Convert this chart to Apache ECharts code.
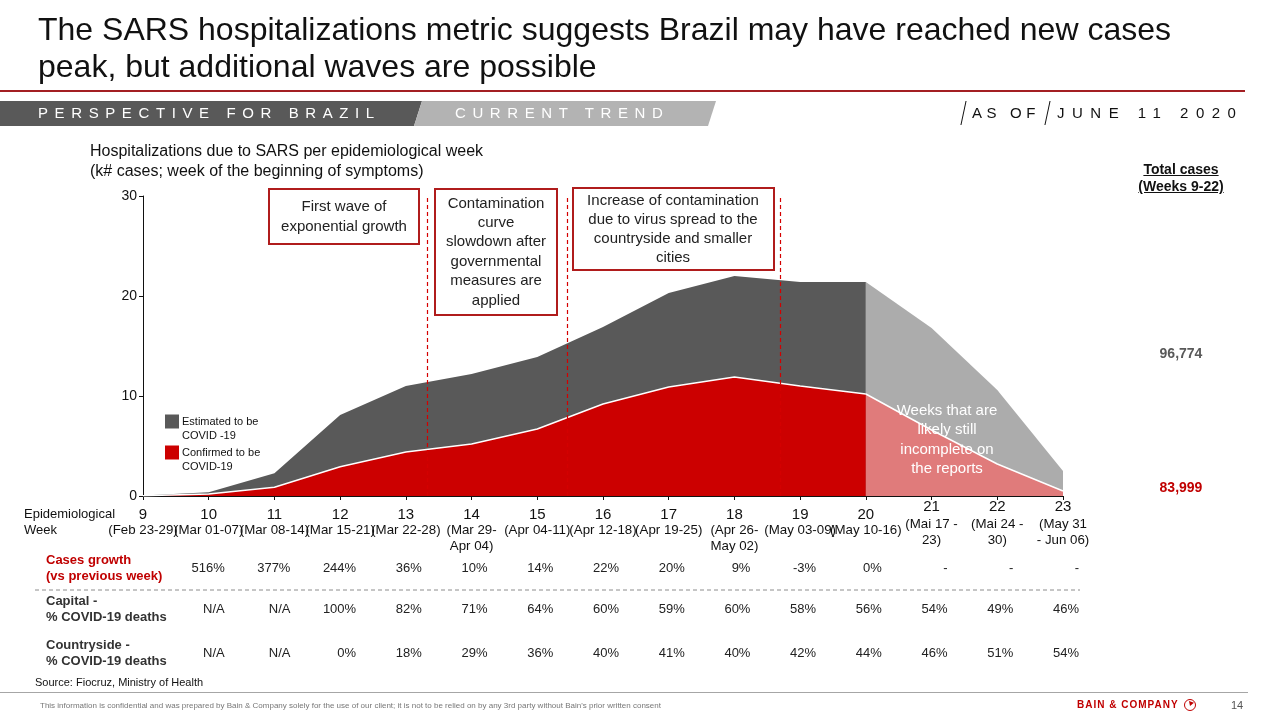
<!DOCTYPE html>
<html>
<head>
<meta charset="utf-8">
<script src="https://cdn.jsdelivr.net/npm/echarts@6/dist/echarts.min.js"></script>
<style>
  body { margin: 0; width: 1280px; height: 720px; position: relative; overflow: hidden; background: #fff;
         font-family: "Liberation Sans", Arial, sans-serif; color: #111; }
  #main { position: absolute; left: 0; top: 0; width: 1280px; height: 720px; }
  .t { position: absolute; white-space: nowrap; }
  .title { left: 38px; top: 11px; font-size: 32px; line-height: 37px; }
  .rule { position: absolute; left: 0; top: 90px; width: 1245px; height: 2px; background: #a31f23; }
  .band { position: absolute; top: 101px; height: 25px; }
  .band.dark { left: 0; width: 422px; background: #595959; clip-path: polygon(0 0, 100% 0, calc(100% - 8px) 100%, 0 100%); }
  .band.light { left: 414px; width: 302px; background: #b3b3b3; clip-path: polygon(8px 0, 100% 0, calc(100% - 8px) 100%, 0 100%); }
  .band-txt { top: 104px; font-size: 15px; line-height: 18px; color: #fff; letter-spacing: 6.6px; }
  .asof { top: 104px; font-size: 15px; line-height: 18px; color: #111; }
  .slash { position: absolute; top: 101px; width: 1.3px; height: 24px; background: #111; transform: skewX(-12deg); }
  .sub { left: 90px; top: 141px; font-size: 16px; line-height: 20px; }
  .tot { font-weight: bold; font-size: 14px; text-align: center; width: 140px; left: 1111px; }
  .foot-line { position: absolute; left: 0; top: 692px; width: 1248px; height: 1px; background: #a6a6a6; }
</style>
</head>
<body>
<div id="main"></div>

<div class="t title">The SARS hospitalizations metric suggests Brazil may have reached new cases<br>peak, but additional waves are possible</div>
<div class="rule"></div>
<div class="band dark"></div>
<div class="band light"></div>
<div class="t band-txt" style="left:38px">PERSPECTIVE FOR BRAZIL</div>
<div class="t band-txt" style="left:455px">CURRENT TREND</div>
<div class="slash" style="left:963px"></div>
<div class="t asof" style="left:972px;letter-spacing:4.6px">AS OF</div>
<div class="slash" style="left:1047px"></div>
<div class="t asof" style="left:1057px;letter-spacing:7.5px">JUNE 11 2020</div>

<div class="t sub">Hospitalizations due to SARS per epidemiological week<br>(k# cases; week of the beginning of symptoms)</div>

<div class="t tot" style="top:161px;line-height:17px;text-decoration:underline;color:#111">Total cases<br>(Weeks 9-22)</div>
<div class="t tot" id="totEst" style="top:345px;color:#595959"></div>
<div class="t tot" id="totConf" style="top:479px;color:#c00000"></div>

<div class="t" style="left:35px;top:676px;font-size:11px;color:#111">Source: Fiocruz, Ministry of Health</div>
<div class="foot-line"></div>
<div class="t" style="left:40px;top:701px;font-size:8px;color:#777">This information is confidential and was prepared by Bain &amp; Company solely for the use of our client; it is not to be relied on by any 3rd party without Bain's prior written consent</div>
<div class="t" style="left:1077px;top:699px;font-size:10px;font-weight:bold;color:#c00000;letter-spacing:1px">BAIN &amp; COMPANY</div>
<div class="t" style="left:1184px;top:699px;width:12px;height:12px;border:1.6px solid #c00000;border-radius:50%;box-sizing:border-box"></div>
<div class="t" style="left:1189px;top:701px;width:5px;height:5px;background:#c00000;clip-path:polygon(0 0, 100% 35%, 20% 100%)"></div>
<div class="t" style="left:1231px;top:699px;font-size:11px;color:#555">14</div>

<script type="text/javascript">
  // epidemiological weeks and their date ranges
  var weeks = [9, 10, 11, 12, 13, 14, 15, 16, 17, 18, 19, 20, 21, 22, 23];
  var weekDates = ['(Feb 23-29)', '(Mar 01-07)', '(Mar 08-14)', '(Mar 15-21)', '(Mar 22-28)',
                   '(Mar 29-\nApr 04)', '(Apr 04-11)', '(Apr 12-18)', '(Apr 19-25)', '(Apr 26-\nMay 02)',
                   '(May 03-09)', '(May 10-16)', '(Mai 17 -\n23)', '(Mai 24 -\n30)', '(May 31\n- Jun 06)'];
  // k# hospitalizations
  var confirmed = [0.02, 0.2, 0.87, 2.93, 4.4, 5.2, 6.7, 9.2, 10.9, 11.9, 11.0, 10.2, 6.6, 3.2, 0.5];
  var estimated = [0.03, 0.17, 1.4, 5.17, 6.6, 7.0, 7.2, 7.7, 9.4, 10.1, 10.4, 11.2, 10.2, 7.4, 2.0];
  var lastCompleteWeek = 20;
  // table rows
  var growth = ['', '516%', '377%', '244%', '36%', '10%', '14%', '22%', '20%', '9%', '-3%', '0%', '-', '-', '-'];
  var capital = ['', 'N/A', 'N/A', '100%', '82%', '71%', '64%', '60%', '59%', '60%', '58%', '56%', '54%', '49%', '46%'];
  var countryside = ['', 'N/A', 'N/A', '0%', '18%', '29%', '36%', '40%', '41%', '40%', '42%', '44%', '46%', '51%', '54%'];
  // phase boundaries (week position) and totals
  var phaseBreaks = [13.32, 15.45, 18.7];
  var totals = ['96,774', '83,999'];

  document.getElementById('totEst').textContent = totals[0];
  document.getElementById('totConf').textContent = totals[1];

  // estimated cases sit on top of the confirmed ones
  var allCases = confirmed.map(function (c, i) { return c + estimated[i]; });
  var weekNames = weeks.map(String);
  var split = weeks.indexOf(lastCompleteWeek);
  var last = weeks.length - 1;
  function pairs(values, from, to) {
    var out = [];
    for (var i = from; i <= to; i++) out.push([weekNames[i], values[i]]);
    return out;
  }
  function tableAxis(list, offset) {
    return {
      type: 'category', gridIndex: 1, position: 'bottom', offset: offset,
      data: list, boundaryGap: false,
      axisLine: { show: false }, axisTick: { show: false }, splitLine: { show: false },
      axisLabel: { interval: 0, margin: 0, align: 'right', verticalAlign: 'middle', fontSize: 13, color: '#222' }
    };
  }

  var FONT = '"Liberation Sans", Arial, sans-serif';
  var red = '#cc0000', redLight = '#e07b7b', grey = '#595959', greyLight = '#acacac';

  var option = {
    animation: false,
    textStyle: { fontFamily: FONT },
    grid: [
      { left: 143, top: 196, right: 217, height: 300 },
      { left: 159, top: 196, right: 201, height: 300 }
    ],
    legend: {
      data: ['Estimated to be COVID -19', 'Confirmed to be COVID-19'],
      orient: 'vertical', left: 165, top: 413, itemGap: 0, padding: 0,
      itemWidth: 14, itemHeight: 28,
      icon: 'path://M0,0L14,0L14,14L0,14Z M0,28',
      itemStyle: { borderWidth: 0 },
      formatter: function (name) { return name.replace(' COVID', '\nCOVID'); },
      textStyle: { fontSize: 11, lineHeight: 14, color: '#111', padding: [3, 0, 0, -2] },
      selectedMode: false
    },
    xAxis: [
      {
        type: 'category', gridIndex: 0, data: weekNames, boundaryGap: false,
        axisLine: { lineStyle: { color: '#111', width: 1 } },
        axisTick: { show: true, interval: 0, length: 4, lineStyle: { color: '#111' } },
        splitLine: { show: false },
        axisLabel: {
          interval: 0, margin: 3, color: '#111',
          formatter: function (v, i) {
            var key = weeks[i] > lastCompleteWeek ? 'u' : 'w';
            return '{' + key + '|' + v + '}\n{d|' + weekDates[i] + '}';
          },
          rich: {
            w: { fontSize: 15, lineHeight: 23, verticalAlign: 'bottom', color: '#111' },
            u: { fontSize: 15, lineHeight: 17, verticalAlign: 'top', color: '#111' },
            d: { fontSize: 13.3, lineHeight: 16, color: '#111' }
          }
        }
      },
      tableAxis(growth, 72),
      tableAxis(capital, 113),
      tableAxis(countryside, 157),
      // continuous week scale for the phase separators
      { type: 'value', gridIndex: 0, min: 9, max: 23, show: false }
    ],
    yAxis: [
      {
        type: 'value', gridIndex: 0, min: 0, max: 30, interval: 10,
        axisLine: { show: true, lineStyle: { color: '#111', width: 1 } },
        axisTick: { show: true, length: 4, lineStyle: { color: '#111' } },
        splitLine: { show: false },
        axisLabel: { fontSize: 14, color: '#111', margin: 6 }
      },
      { type: 'value', gridIndex: 1, min: 0, max: 30, show: false }
    ],
    series: [
      {
        name: 'Estimated to be COVID -19', type: 'line', z: 2,
        data: pairs(allCases, 0, split), symbol: 'none',
        itemStyle: { color: grey }, lineStyle: { width: 0 },
        areaStyle: { color: grey, opacity: 1 }
      },
      {
        name: 'Estimated (incomplete)', type: 'line', z: 2,
        data: pairs(allCases, split, last), symbol: 'none',
        itemStyle: { color: greyLight }, lineStyle: { width: 0 },
        areaStyle: { color: greyLight, opacity: 1 }
      },
      {
        name: 'Confirmed to be COVID-19', type: 'line', z: 3,
        data: pairs(confirmed, 0, split), symbol: 'none',
        itemStyle: { color: red }, lineStyle: { color: '#fff', width: 1.5 },
        areaStyle: { color: red, opacity: 1 }
      },
      {
        name: 'Confirmed (incomplete)', type: 'line', z: 3,
        data: pairs(confirmed, split, last), symbol: 'none',
        itemStyle: { color: redLight }, lineStyle: { color: '#fff', width: 1.5 },
        areaStyle: { color: redLight, opacity: 1 }
      },
      {
        name: 'Phases', type: 'line', xAxisIndex: 4, yAxisIndex: 0, z: 4, data: [],
        markLine: {
          silent: true, symbol: 'none', label: { show: false },
          lineStyle: { color: '#d40000', type: [4, 3], width: 1.2, opacity: 1 },
          data: phaseBreaks.map(function (x) { return { xAxis: x }; })
        }
      }
    ],
    graphic: [
      // phase annotation boxes
      { type: 'rect', z: 100, shape: { x: 269, y: 189, width: 150, height: 55 },
        style: { fill: '#fff', stroke: '#b01c1c', lineWidth: 2 } },
      { type: 'text', z: 101, style: { x: 344, y: 217, text: 'First wave of\nexponential growth',
        fontSize: 15, lineHeight: 20, fontFamily: FONT, fill: '#222', align: 'center', verticalAlign: 'middle' } },
      { type: 'rect', z: 100, shape: { x: 435, y: 189, width: 122, height: 126 },
        style: { fill: '#fff', stroke: '#b01c1c', lineWidth: 2 } },
      { type: 'text', z: 101, style: { x: 496, y: 252,
        text: 'Contamination\ncurve\nslowdown after\ngovernmental\nmeasures are\napplied',
        fontSize: 15, lineHeight: 19.4, fontFamily: FONT, fill: '#222', align: 'center', verticalAlign: 'middle' } },
      { type: 'rect', z: 100, shape: { x: 573, y: 188, width: 201, height: 82 },
        style: { fill: '#fff', stroke: '#b01c1c', lineWidth: 2 } },
      { type: 'text', z: 101, style: { x: 673, y: 229,
        text: 'Increase of contamination\ndue to virus spread to the\ncountryside and smaller\ncities',
        fontSize: 15, lineHeight: 19, fontFamily: FONT, fill: '#222', align: 'center', verticalAlign: 'middle' } },
      // incomplete weeks note
      { type: 'text', z: 101, style: { x: 947, y: 440,
        text: 'Weeks that are\nlikely still\nincomplete on\nthe reports',
        fontSize: 15, lineHeight: 19.5, fontFamily: FONT, fill: '#fff', align: 'center', verticalAlign: 'middle' } },
      // axis caption
      { type: 'text', z: 101, style: { x: 24, y: 522, text: 'Epidemiological\nWeek',
        fontSize: 13, lineHeight: 16, fontFamily: FONT, fill: '#111', verticalAlign: 'middle' } },
      // table row captions and separator
      { type: 'text', z: 101, style: { x: 46, y: 568, text: 'Cases growth\n(vs previous week)',
        fontSize: 13, fontWeight: 'bold', lineHeight: 16, fontFamily: FONT, fill: '#c00000', verticalAlign: 'middle' } },
      { type: 'line', z: 101, shape: { x1: 35, y1: 590, x2: 1080, y2: 590 },
        style: { stroke: '#8c8c8c', lineWidth: 1, lineDash: [4, 3] } },
      { type: 'text', z: 101, style: { x: 46, y: 609, text: 'Capital -\n% COVID-19 deaths',
        fontSize: 13, fontWeight: 'bold', lineHeight: 16, fontFamily: FONT, fill: '#333', verticalAlign: 'middle' } },
      { type: 'text', z: 101, style: { x: 46, y: 653, text: 'Countryside -\n% COVID-19 deaths',
        fontSize: 13, fontWeight: 'bold', lineHeight: 16, fontFamily: FONT, fill: '#333', verticalAlign: 'middle' } }
    ]
  };

  var myChart = echarts.init(document.getElementById('main'));
  myChart.setOption(option);
</script>
</body>
</html>
